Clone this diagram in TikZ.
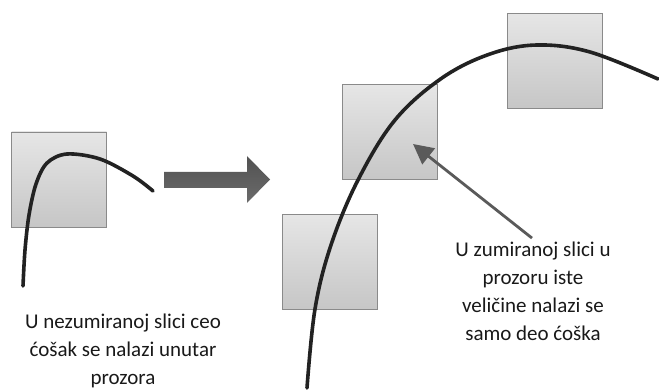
\documentclass[tikz,border=0pt]{standalone}
\usepackage{fontspec}
\setmainfont{Carlito}
\usetikzlibrary{arrows.meta}
\definecolor{boxtop}{HTML}{E6E6E6}
\definecolor{boxbot}{HTML}{C6C6C6}
\definecolor{boxline}{HTML}{8A8A8A}
\definecolor{curvecol}{HTML}{222222}
\definecolor{pointer}{HTML}{5A5A5A}
\tikzset{
window/.style={
  rectangle, draw=boxline, line width=0.9pt,
  top color=boxtop, bottom color=boxbot,
  minimum size=95pt, inner sep=0pt
},
corner/.style={curvecol, line width=3.6pt, line cap=round},
caption/.style={
  align=center, text=black!90,
  font=\fontsize{21}{28}\selectfont
},
}
\begin{document}
\begin{tikzpicture}[x=1pt,y=-1pt]
\useasboundingbox (0,0) rectangle (659,390);
% the windows
\node[window] (win0) at (59,179.5) {};
\node[window] (win1) at (329.5,262) {};
\node[window] (win2) at (389.5,132) {};
\node[window] (win3) at (554.5,61) {};
% the corners
\draw[corner] plot[smooth, tension=0.55] coordinates
  {(23,286) (25,250) (29,215) (36,184) (47,163) (67,154) (100,159)
   (133,176) (153,191)};
\draw[corner] plot[smooth, tension=0.6] coordinates
  {(307,388) (315,309) (331,245) (358,180) (395,120) (442,78)
   (490,54) (537,45) (590,52) (658,79)};
% the zoom arrow
\shade[top color=black!68, bottom color=black!58]
  (164,172) -- (247,172) -- (247,156) -- (270,179.5) -- (247,203)
  -- (247,188) -- (164,188) -- cycle;
% the captions
\node[caption] (txt0) at (123,351) {U nezumiranoj slici ceo\\ćošak se nalazi unutar\\prozora};
\node[caption] (txt1) at (533,291) {U zumiranoj slici u\\prozoru iste\\veličine nalazi se\\samo deo ćoška};
\coordinate (tip) at (413,144);
\draw[pointer, line width=2.8pt, -{Triangle[length=20pt,width=20pt]}]
  ([xshift=-1pt]txt1.north) -- (tip);
\end{tikzpicture}
\end{document}
